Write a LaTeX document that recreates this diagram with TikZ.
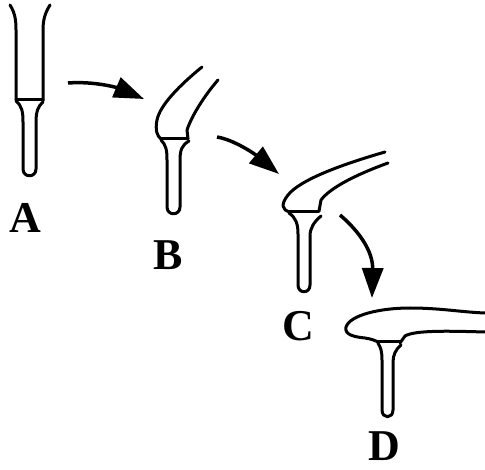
\documentclass[tikz,border=0pt]{standalone}
\usepackage{fontspec}
\setmainfont{Liberation Serif}
\usetikzlibrary{arrows.meta}
\newcommand{\stagefont}{\fontsize{44}{44}\selectfont\bfseries}
\begin{document}
\begin{tikzpicture}[x=1pt,y=-1pt,line width=3pt,line cap=round,line join=round,
  stagelabel/.style={inner sep=0pt,font=\stagefont},
  bendarrow/.style={line width=3.5pt,line cap=butt,-{Triangle[length=30pt,width=21pt]}}]
\useasboundingbox (0,0) rectangle (485,470);
% stage A
\draw (10,5) .. controls (15,13) and (16,20) .. (16,30) -- (16,100);
\draw (50,5) .. controls (45,13) and (43,20) .. (43,30) -- (43,101);
\draw (16,100) -- (43,100);
\draw (16,101) .. controls (22,106) and (23,112) .. (23,122) -- (23,169) .. controls (23,178) and (36,178) .. (36,169) -- (36,122) .. controls (36,112) and (38,106) .. (43,102);
\node [stagelabel] (labA) at (25,218) {A};
% stage B
\draw (202,67) .. controls (180,85) and (160,105) .. (157,120) .. controls (155,130) and (157,136) .. (161,139);
\draw (218,80) .. controls (205,95) and (192,115) .. (187,130) -- (188,139);
\draw (161,139) -- (188,139);
\draw (161,140) .. controls (166,145) and (167,150) .. (167,160) -- (167,207) .. controls (167,216) and (180,216) .. (180,207) -- (180,160) .. controls (180,150) and (182,145) .. (189,141);
\node [stagelabel] (labB) at (168,255) {B};
% stage C
\draw (385,152) .. controls (340,165) and (300,180) .. (288,195) .. controls (280,205) and (283,210) .. (289,212);
\draw (388,163) .. controls (355,175) and (330,188) .. (321,200) -- (319,211);
\draw (289,212) -- (319,212);
\draw (289,213) .. controls (296,218) and (298,224) .. (298,234) -- (298,285) .. controls (298,294) and (310,294) .. (310,285) -- (310,236) .. controls (310,228) and (314,222) .. (321,216);
\node [stagelabel] (labC) at (298,326) {C};
% stage D
\draw (485,313) .. controls (460,312) and (440,308) .. (410,308) .. controls (380,308) and (350,315) .. (346,327) .. controls (344,335) and (355,337) .. (365,338) .. controls (372,339) and (376,341) .. (378,342);
\draw (485,332) .. controls (450,331) and (415,330) .. (405,336) -- (400,343);
\draw (378,342) -- (400,342);
\draw (378,343) .. controls (381,348) and (382,352) .. (382,360) -- (382,410) .. controls (382,419) and (393,419) .. (393,410) -- (393,362) .. controls (393,355) and (396,349) .. (401,345);
\node [stagelabel] (labD) at (384,446) {D};
% arrows between stages
\coordinate (outA) at (68,83);
\coordinate (inB) at (144,99);
\coordinate (outB) at (217,137);
\coordinate (inC) at (279,174);
\coordinate (outC) at (340,215);
\coordinate (inD) at (372,298);
\draw [bendarrow] (outA) .. controls (95,81) and (118,88) .. (inB);
\draw [bendarrow] (outB) .. controls (235,140) and (256,155) .. (inC);
\draw [bendarrow] (outC) .. controls (360,232) and (373,252) .. (inD);
\end{tikzpicture}
\end{document}
